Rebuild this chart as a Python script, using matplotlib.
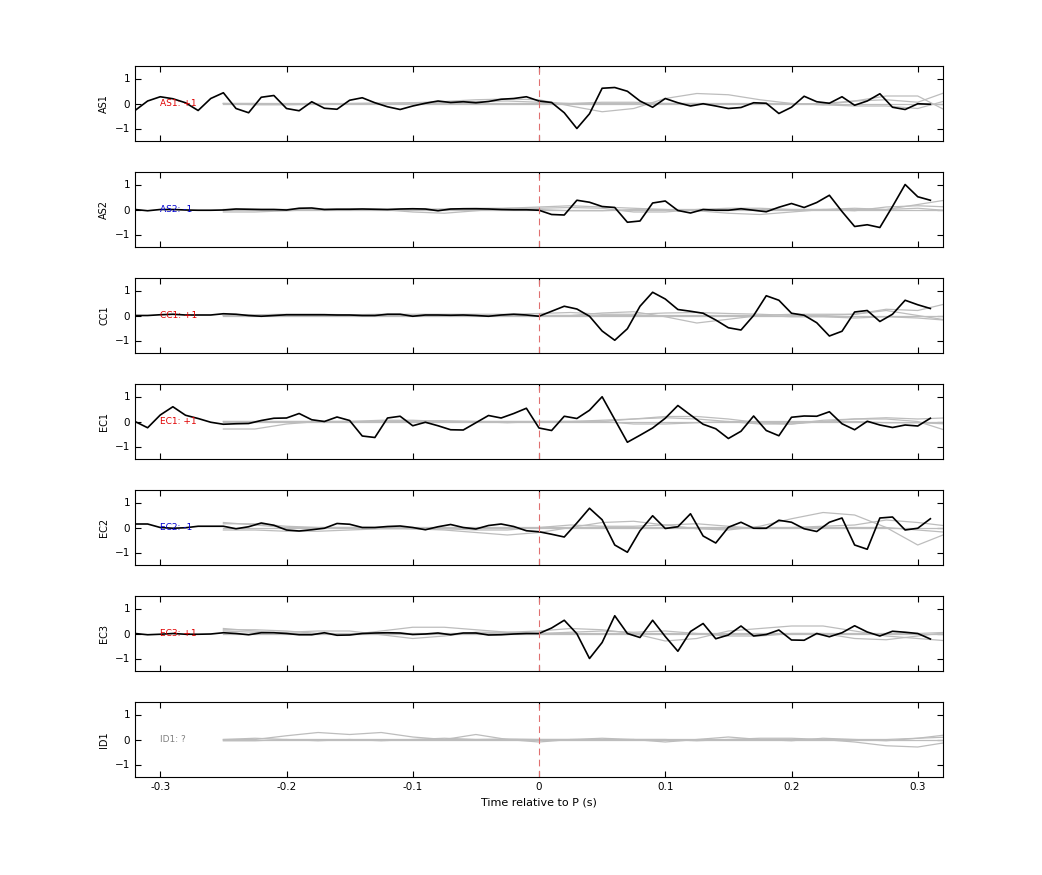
import numpy as np
import matplotlib
matplotlib.use("Agg")
import matplotlib.pyplot as plt

stations = ["AS1", "AS2", "CC1", "EC1", "EC2", "EC3", "ID1"]
labels = ["AS1: +1", "AS2: -1", "CC1: +1", "EC1: +1", "EC2: -1", "EC3: +1", "ID1: ?"]
label_colors = ["#e00000", "#0000d0", "#e00000", "#e00000", "#0000d0", "#e00000", "#808080"]

t_black = np.round(np.arange(-0.32, 0.315, 0.01), 2)
black = {
 "AS1": [-0.28,0.1,0.27,0.19,0.03,-0.28,0.2,0.43,-0.2,-0.37,0.25,0.32,-0.2,-0.29,0.07,-0.19,-0.23,0.13,0.23,0.03,-0.13,-0.24,-0.1,0.01,0.1,0.04,0.07,0.03,0.08,0.17,0.2,0.27,
         0.1,0.04,-0.37,-1.0,-0.41,0.61,0.64,0.49,0.1,-0.15,0.2,0.03,-0.1,-0.01,-0.1,-0.2,-0.16,0.03,0.01,-0.4,-0.15,0.29,0.07,0.01,0.27,-0.07,0.1,0.39,-0.15,-0.24,-0.01,-0.03],
 "AS2": [0,-0.05,0,0,-0.02,-0.03,-0.03,-0.02,0.02,0.01,0,0,-0.02,0.05,0.06,0,0.01,0.01,0.02,0.01,0,0.02,0.03,0.02,-0.05,0.02,0.03,0.03,0.02,0,-0.01,-0.01,
         -0.03,-0.2,-0.22,0.37,0.29,0.12,0.08,-0.51,-0.46,0.26,0.34,-0.04,-0.14,0,-0.03,-0.03,0.03,-0.03,-0.09,0.09,0.24,0.08,0.28,0.57,-0.08,-0.68,-0.61,-0.72,0.12,1.0,0.51,0.37],
 "CC1": [0,0,0.03,0.05,0.02,0.02,0.02,0.07,0.05,0,-0.03,0,0.03,0.03,0.03,0.03,0.02,0.02,0,0,0.05,0.05,-0.03,0.02,0.02,0.01,0.02,0,-0.03,0.02,0.05,0.02,
         -0.03,0.17,0.37,0.26,-0.03,-0.62,-0.99,-0.53,0.37,0.93,0.66,0.24,0.17,0.09,-0.18,-0.49,-0.58,0,0.79,0.61,0.09,0.01,-0.29,-0.82,-0.63,0.14,0.2,-0.24,0.05,0.61,0.43,0.28],
 "EC1": [0,-0.25,0.26,0.59,0.25,0.12,-0.03,-0.11,-0.09,-0.08,0.04,0.13,0.14,0.32,0.07,0,0.18,0.04,-0.58,-0.64,0.14,0.21,-0.17,-0.03,-0.17,-0.33,-0.34,-0.05,0.24,0.14,0.32,0.53,
         -0.26,-0.36,0.21,0.12,0.45,0.99,0.08,-0.83,-0.55,-0.26,0.13,0.64,0.26,-0.11,-0.29,-0.68,-0.39,0.22,-0.36,-0.57,0.17,0.22,0.21,0.39,-0.09,-0.33,0.01,-0.14,-0.24,-0.14,-0.18,0.13],
 "EC2": [0.14,0.14,0,-0.03,-0.01,0.05,0.05,0.05,-0.05,0.03,0.18,0.09,-0.1,-0.14,-0.09,-0.03,0.16,0.13,0,0,0.04,0.06,0,-0.09,0.03,0.12,0,-0.06,0.08,0.14,0.04,-0.13,
         -0.17,-0.27,-0.38,0.18,0.77,0.31,-0.7,-0.99,-0.13,0.47,-0.04,0.03,0.55,-0.34,-0.62,0.01,0.21,-0.03,-0.03,0.29,0.21,-0.05,-0.16,0.21,0.38,-0.7,-0.87,0.38,0.42,-0.1,-0.03,0.35],
 "EC3": [0,-0.05,-0.03,0,-0.03,-0.03,-0.02,0.03,0,-0.05,0.03,0.03,0,-0.05,-0.05,0.03,-0.07,-0.06,0,0.02,0.03,0.02,-0.04,-0.02,0.02,-0.05,0.02,0.02,-0.06,-0.05,-0.02,0,
         0,0.22,0.53,-0.01,-1.0,-0.36,0.71,0,-0.16,0.53,-0.12,-0.71,0.08,0.4,-0.21,-0.06,0.3,-0.1,-0.04,0.14,-0.26,-0.27,0,-0.13,0.03,0.31,0.06,-0.1,0.09,0.05,0,-0.22],
}

t_grey = np.round(np.arange(-0.25, 0.326, 0.025), 3)
grey = {
 "AS1": [[0,0,-0.02,-0.03,-0.02,0,0.03,0.08,0.15,0.18,0.15,-0.1,-0.33,-0.2,0.2,0.4,0.35,0.15,0.0,-0.05,0.1,0.3,0.3,-0.35],
         [0,-0.05,-0.05,-0.03,0,0.02,0.02,0.05,0.08,0.1,0.05,0,0.05,0.05,0,0,-0.02,-0.03,-0.02,0,0.1,0.15,0.05,0.5],
         [0,0,0,0,0,0,0,0,0,0,0,0,0,0,0,0,0,0,0,-0.05,-0.1,-0.1,-0.2,0.15],
         [0,0,0,0,0,0,0,0,0,0,0,0,0,0,0,0,0,0,0,0,0,0,0,0]],
 "AS2": [[-0.1,-0.1,-0.05,0,0.02,0,-0.1,-0.15,-0.05,0.05,0.1,0.15,0.1,0.05,0,-0.05,-0.15,-0.2,-0.1,0,0.05,0,0.2,0.4],
         [0,0,0,0,0,0,0,0.02,0.05,0.05,0.05,0.08,0.05,-0.1,-0.1,0,0.05,0.05,0,0,-0.05,0.1,0.15,0.1],
         [0,0,0,0,0,0,0,0,0,0,0,-0.05,-0.05,0,0,0,0,0,0,0,0,0,0.05,-0.05],
         [0,0,0,0,0,0,0,0,0,0,0,0,0,0,0,0,0,0,0,0,0,0,0,0]],
 "CC1": [[0,0,0,0,0,0,0,0,0,0,0,0,0.1,0.15,-0.05,-0.3,-0.15,0,0.05,0.05,0.05,0.25,0.2,0.5],
         [0,0.03,0.05,0.05,0.03,0.05,0.05,0.05,0.05,0.05,0.08,0.12,0.05,0.05,0.1,0.12,0.08,0.05,0,0,0.05,0.2,0.0,-0.2],
         [0,0,0,0,0,0,0,0,0,0,0,0,0,0,0,0,0,0,-0.05,-0.05,-0.1,-0.05,-0.1,-0.2],
         [0,0,0,0,0,0,0,0,0,0,0,0,0,0,0,0,0,0,0,0,0,0,0,0]],
 "EC1": [[-0.3,-0.3,-0.1,0,0,0,0.02,0.03,0,0,0,0,0,0.1,0.2,0.2,0.1,-0.05,-0.1,0.05,0.1,0.1,0,-0.4],
         [0,0,0,0,0,0.05,0.05,0,0,-0.05,0,0,0.05,0.1,0.15,0.1,0,-0.1,-0.1,0,0.1,0.15,0.1,0.15],
         [0,0,0,0,0,0,0,0,0,0,0,0,0,-0.1,-0.1,-0.05,0,0,0,0,0,-0.05,-0.05,-0.1],
         [0,0,0,0,0,0,0,0,0,0,0,0,0,0,0,0,0,0,0,0,0,0,0,0]],
 "EC2": [[0.15,0.15,0.05,0,0,0,-0.05,-0.1,-0.2,-0.3,-0.2,0,0.2,0.25,0.1,-0.05,-0.1,0.05,0.35,0.6,0.5,0,-0.7,-0.2],
         [-0.1,-0.1,-0.15,-0.15,-0.1,-0.05,-0.05,-0.05,-0.1,-0.1,0,0.1,0.05,0.05,0.1,0.15,0.05,-0.05,0,0.05,0.1,0.3,0.2,0.05],
         [0.2,0.1,0,0,0,0,0,0,0,0,0,0,0,0,0,0,0,0,0,0,0,0,-0.1,-0.2],
         [0,0,0,0,0,0,0,0,0,0,0,0,0,0,0,0,0,0,0,0,0,0,0,0]],
 "EC3": [[0.15,0.15,0.1,0,-0.05,0.1,0.25,0.25,0.15,0.05,0.1,0.2,0.15,0,-0.3,-0.2,0.1,0.2,0.3,0.3,0.1,-0.1,-0.2,-0.3],
         [0.1,0.05,0.05,0.1,0.1,-0.05,-0.2,-0.1,0.05,0.05,0.0,0.05,0.1,0.05,0.1,0,-0.1,-0.1,0,0,-0.2,-0.25,-0.1,0.05],
         [0.2,0.1,0,0,0,0,0,0,0,0,0,0,0,0,0,0,0,0,0,0,0,0,0,0.05],
         [0,0,0,0,0,0,0,0,0,0,0,0,0,0,0,0,0,0,0,0,0,0,0,0]],
 "ID1": [[0,0,0.15,0.28,0.2,0.28,0.1,0.0,0.2,0.0,-0.1,0,0.05,0,-0.1,0,0.1,0,-0.05,0.05,0,-0.05,0.05,0.2],
         [0,0.05,0,-0.05,0,-0.05,0,0.05,0,0.02,0,0,-0.02,0,0,-0.05,0,0.05,0.05,0,-0.1,-0.25,-0.3,-0.1],
         [-0.05,-0.05,0,0,0,0,0,0,0,0,0,0,0,0,0,0,0,0,0,0,0,0,0.05,0.1],
         [0,0,0,0,0,0,0,0,0,0,0,0,0,0,0,0,0,0,0,0,0,0,0,0]],
}

fig = plt.figure(figsize=(10.42, 8.75), dpi=100)
W, H = 1042, 875
tops = [66, 172, 278, 384, 490, 596, 702]
for i, st in enumerate(stations):
    ax = fig.add_axes([135/W, 1 - (tops[i] + 75)/H, 808/W, 75/H])
    for g in grey[st]:
        ax.plot(t_grey, g, color="#bdbdbd", lw=0.9)
    if st in black:
        ax.plot(t_black, black[st], color="black", lw=1.2)
    ax.axvline(0, color="#e07070", lw=0.8, ls=(0, (6, 4)))
    ax.text(-0.30, 0, labels[i], color=label_colors[i], fontsize=6.5, va="center")
    ax.set_xlim(-0.32, 0.32)
    ax.set_ylim(-1.5, 1.5)
    ax.set_yticks([-1, 0, 1])
    ax.set_xticks([-0.3, -0.2, -0.1, 0, 0.1, 0.2, 0.3])
    ax.tick_params(direction="in", top=True, right=True, labelsize=7.5, length=4)
    ax.set_ylabel(st, fontsize=7)
    if i < len(stations) - 1:
        ax.set_xticklabels([])
    else:
        ax.set_xticklabels(["-0.3", "-0.2", "-0.1", "0", "0.1", "0.2", "0.3"])
        ax.set_xlabel("Time relative to P (s)", fontsize=8)
fig.savefig("out.png", dpi=100)
